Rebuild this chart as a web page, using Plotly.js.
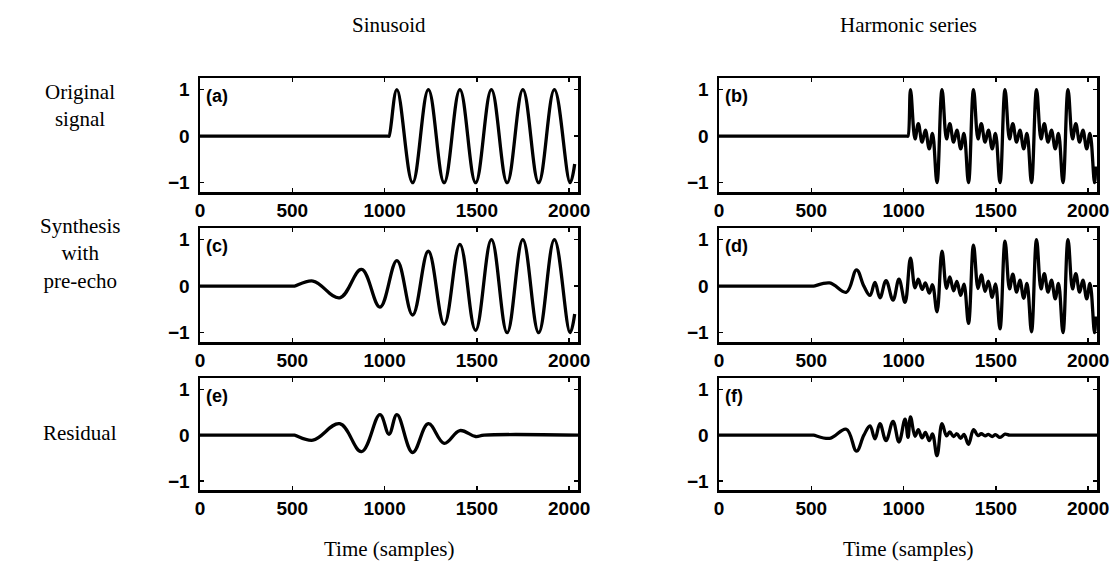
<!DOCTYPE html>
<html>
<head>
<meta charset="utf-8">
<script src="https://cdn.plot.ly/plotly-3.0.1.min.js"></script>
<style>
  html, body { margin: 0; padding: 0; background: #fff; }
  #chart { width: 1112px; height: 568px; }
</style>
</head>
<body>
<div id="chart"></div>
<script>
// Axis ticks shared by all six panels
const X_TICKS = [0, 500, 1000, 1500, 2000];
const Y_TICKS = [-1, 0, 1];

// (a) sinusoid switched on at sample 1024 (extrema of the wave)
const sinOrigX = [0, 1020, 1024, 1066.7, 1152, 1237.3, 1322.7, 1408, 1493.3, 1578.7, 1664, 1749.3, 1834.7, 1920, 2005.3, 2030];
const sinOrigY = [0, 0, 0, 1, -1, 1, -1, 1, -1, 1, -1, 1, -1, 1, -1, -0.6];

// (c) synthesized sinusoid with pre-echo
const sinSynthX = [0, 505, 512, 612, 757, 875, 975, 1067, 1152, 1237, 1323, 1408, 1493, 1579, 1664, 1749, 1835, 1920, 2005, 2030];
const sinSynthY = [0, 0, 0, 0.11, -0.25, 0.36, -0.45, 0.55, -0.62, 0.75, -0.82, 0.9, -0.95, 1, -1, 1, -1, 1, -1, -0.6];

// (e) residual of the sinusoid
const sinResX = [0, 505, 512, 612, 757, 875, 975, 1024, 1067, 1152, 1237, 1323, 1408, 1493, 1540, 2048];
const sinResY = [0, 0, 0, -0.11, 0.25, -0.36, 0.45, 0.02, 0.45, -0.38, 0.25, -0.18, 0.1, -0.03, 0, 0];

// (b) harmonic series switched on at sample 1024
const harmOrigX = [0, 1020, 1024,
  1037.6, 1062.2, 1079.7, 1100.5, 1118.2, 1139, 1156.5, 1181.1,
  1208.3, 1232.9, 1250.4, 1271.2, 1288.9, 1309.7, 1327.2, 1351.8,
  1378.9, 1403.5, 1421, 1441.8, 1459.5, 1480.3, 1497.8, 1522.4,
  1549.6, 1574.2, 1591.7, 1612.5, 1630.2, 1651, 1668.5, 1693.1,
  1720.3, 1744.9, 1762.4, 1783.2, 1800.9, 1821.7, 1839.2, 1863.8,
  1890.9, 1915.5, 1933, 1953.8, 1971.5, 1992.3, 2009.8, 2034.4,
  2041];
const harmOrigY = [0, 0, 0,
  1, -0.06, 0.27, -0.13, 0.13, -0.27, 0.06, -1,
  1, -0.06, 0.27, -0.13, 0.13, -0.27, 0.06, -1,
  1, -0.06, 0.27, -0.13, 0.13, -0.27, 0.06, -1,
  1, -0.06, 0.27, -0.13, 0.13, -0.27, 0.06, -1,
  1, -0.06, 0.27, -0.13, 0.13, -0.27, 0.06, -1,
  1, -0.06, 0.27, -0.13, 0.13, -0.27, 0.06, -1,
  -0.65];

// (d) synthesized harmonic series with pre-echo
const harmSynthX = [0, 505, 512, 600, 690, 745, 785, 818, 845, 872, 905, 943, 975, 1008,
  1037.6, 1062.2, 1079.7, 1100.5, 1118.2, 1139, 1156.5, 1181.1,
  1208.3, 1232.9, 1250.4, 1271.2, 1288.9, 1309.7, 1327.2, 1351.8,
  1378.9, 1403.5, 1421, 1441.8, 1459.5, 1480.3, 1497.8, 1522.4,
  1549.6, 1574.2, 1591.7, 1612.5, 1630.2, 1651, 1668.5, 1693.1,
  1720.3, 1744.9, 1762.4, 1783.2, 1800.9, 1821.7, 1839.2, 1863.8,
  1890.9, 1915.5, 1933, 1953.8, 1971.5, 1992.3, 2009.8, 2034.4,
  2041];
const harmSynthY = [0, 0, 0, 0.07, -0.13, 0.35, 0, -0.2, 0.08, -0.25, 0.12, -0.3, 0.15, -0.35,
  0.6, -0.035, 0.15, -0.07, 0.07, -0.15, 0.03, -0.55,
  0.75, -0.045, 0.2, -0.1, 0.1, -0.2, 0.045, -0.8,
  0.88, -0.05, 0.24, -0.11, 0.11, -0.24, 0.05, -0.92,
  0.97, -0.06, 0.26, -0.13, 0.13, -0.26, 0.06, -0.98,
  1, -0.06, 0.27, -0.13, 0.13, -0.27, 0.06, -1,
  1, -0.06, 0.27, -0.13, 0.13, -0.27, 0.06, -1,
  -0.65];

// (f) residual of the harmonic series
const harmResX = [0, 505, 512, 600, 690, 745, 785, 818, 845, 872, 905, 943, 975, 1008, 1024,
  1037.6, 1062.2, 1079.7, 1100.5, 1118.2, 1139, 1156.5, 1181.1,
  1208.3, 1232.9, 1250.4, 1271.2, 1288.9, 1309.7, 1327.2, 1351.8,
  1378.9, 1403.5, 1421, 1441.8, 1459.5, 1480.3, 1497.8, 1522.4,
  1549.6, 1574.2, 1600, 2048];
const harmResY = [0, 0, 0, -0.07, 0.13, -0.35, 0, 0.2, -0.08, 0.25, -0.12, 0.3, -0.15, 0.35, -0.05,
  0.4, -0.025, 0.12, -0.06, 0.06, -0.12, 0.027, -0.45,
  0.25, -0.015, 0.07, -0.03, 0.03, -0.07, 0.015, -0.2,
  0.12, -0.01, 0.03, -0.015, 0.015, -0.03, 0.01, -0.05,
  0.02, 0, 0, 0];

// Text
const panelLabels = ['(a)', '(b)', '(c)', '(d)', '(e)', '(f)'];
const columnTitles = ['Sinusoid', 'Harmonic series'];
const rowTitles = ['Original<br>signal', 'Synthesis<br>with<br>pre-echo', 'Residual'];
const xTitle = 'Time (samples)';

const series = [
  [sinOrigX, sinOrigY], [harmOrigX, harmOrigY],
  [sinSynthX, sinSynthY], [harmSynthX, harmSynthY],
  [sinResX, sinResY], [harmResX, harmResY]
];

const W = 1112, H = 568;
const colPx = [[200, 578], [719, 1097]];
const rowPx = [[78, 192], [228, 342], [378, 490]];

const tickFont = { family: 'Liberation Sans, Arial, sans-serif', size: 19, weight: 'bold', color: '#000' };
const serifFont = { family: 'Liberation Serif, Times New Roman, serif', size: 21, color: '#000' };

const data = [];
const layout = {
  width: W, height: H,
  margin: { l: 0, r: 0, t: 0, b: 0 },
  paper_bgcolor: '#fff', plot_bgcolor: '#fff',
  showlegend: false,
  annotations: []
};

series.forEach(([xs, ys], i) => {
  const row = Math.floor(i / 2), col = i % 2;
  const n = i + 1;
  const xa = n === 1 ? 'x' : 'x' + n;
  const ya = n === 1 ? 'y' : 'y' + n;
  data.push({
    type: 'scatter', mode: 'lines', x: xs, y: ys,
    xaxis: xa, yaxis: ya,
    line: { color: '#000', width: 3.3, shape: 'spline', smoothing: 1.1 },
    hoverinfo: 'skip'
  });
  const axisCommon = {
    showline: true, linecolor: '#000', linewidth: 2.5,
    mirror: 'allticks', ticks: 'inside', ticklen: 4, tickwidth: 1.5, tickcolor: '#000',
    showgrid: false, zeroline: false, tickfont: tickFont, fixedrange: true
  };
  layout['xaxis' + (n === 1 ? '' : n)] = Object.assign({}, axisCommon, {
    domain: [colPx[col][0] / W, colPx[col][1] / W],
    range: [0, 2048], tickmode: 'array', tickvals: X_TICKS,
    ticklabelstandoff: 0, anchor: ya
  });
  layout['yaxis' + (n === 1 ? '' : n)] = Object.assign({}, axisCommon, {
    domain: [1 - rowPx[row][1] / H, 1 - rowPx[row][0] / H],
    range: [-1.2, 1.25], tickmode: 'array', tickvals: Y_TICKS,
    ticklabelstandoff: 4, anchor: xa
  });
  layout.annotations.push({
    text: panelLabels[i], showarrow: false,
    xref: xa + ' domain', yref: ya + ' domain', x: 0, y: 1,
    xanchor: 'left', yanchor: 'top', xshift: 4, yshift: -6,
    font: { family: tickFont.family, size: 18, weight: 'bold', color: '#000' }
  });
});

columnTitles.forEach((t, c) => {
  layout.annotations.push({
    text: t, showarrow: false, xref: 'paper', yref: 'paper',
    x: (colPx[c][0] + colPx[c][1]) / 2 / W, y: 1 - 25 / H,
    xanchor: 'center', yanchor: 'middle', font: serifFont
  });
  layout.annotations.push({
    text: xTitle, showarrow: false, xref: 'paper', yref: 'paper',
    x: (colPx[c][0] + colPx[c][1]) / 2 / W, y: 1 - 549 / H,
    xanchor: 'center', yanchor: 'middle', font: serifFont
  });
});

const rowCenters = [105, 253, 433];
rowTitles.forEach((t, r) => {
  layout.annotations.push({
    text: t, showarrow: false, xref: 'paper', yref: 'paper',
    x: 80 / W, y: 1 - rowCenters[r] / H,
    xanchor: 'center', yanchor: 'middle', align: 'center', font: serifFont
  });
});

Plotly.newPlot('chart', data, layout, { staticPlot: true, displayModeBar: false });
</script>
</body>
</html>
